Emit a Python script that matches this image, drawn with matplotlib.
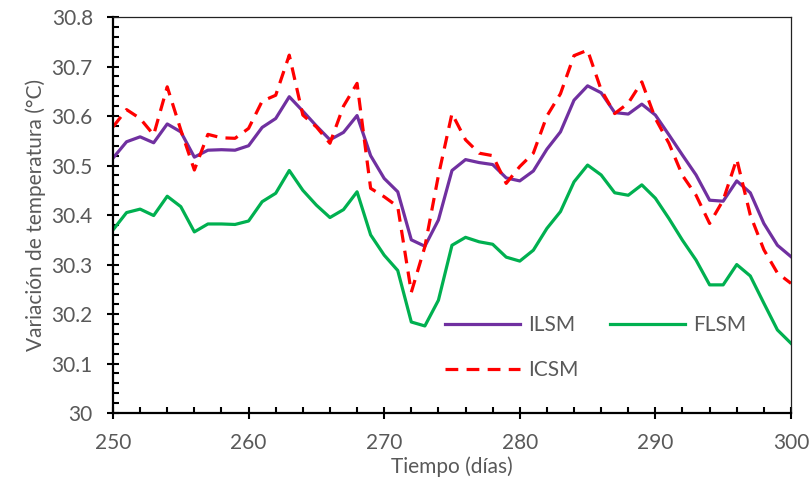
import matplotlib
matplotlib.use("Agg")
import matplotlib.pyplot as plt
from matplotlib.ticker import MultipleLocator, FuncFormatter

days = list(range(250, 301))

ilsm = [30.515, 30.548, 30.558, 30.546, 30.584, 30.568, 30.517, 30.531, 30.532, 30.531,
        30.540, 30.577, 30.595, 30.639, 30.610, 30.580, 30.552, 30.567, 30.601, 30.520,
        30.474, 30.447, 30.350, 30.337, 30.390, 30.490, 30.512, 30.506, 30.502, 30.475,
        30.469, 30.489, 30.533, 30.568, 30.632, 30.661, 30.647, 30.607, 30.604, 30.624,
        30.602, 30.562, 30.521, 30.481, 30.430, 30.428, 30.469, 30.445, 30.383, 30.339,
        30.316]

flsm = [30.370, 30.405, 30.412, 30.399, 30.438, 30.417, 30.366, 30.382, 30.382, 30.381,
        30.388, 30.427, 30.444, 30.490, 30.450, 30.420, 30.395, 30.411, 30.447, 30.360,
        30.319, 30.288, 30.184, 30.176, 30.228, 30.339, 30.355, 30.346, 30.341, 30.315,
        30.307, 30.329, 30.373, 30.407, 30.467, 30.501, 30.481, 30.445, 30.440, 30.461,
        30.434, 30.393, 30.349, 30.309, 30.259, 30.259, 30.300, 30.277, 30.222, 30.168,
        30.141]

icsm = [30.578, 30.613, 30.595, 30.562, 30.659, 30.572, 30.491, 30.563, 30.556, 30.555,
        30.575, 30.630, 30.642, 30.723, 30.602, 30.578, 30.545, 30.620, 30.666, 30.454,
        30.437, 30.417, 30.244, 30.336, 30.480, 30.605, 30.552, 30.525, 30.520, 30.464,
        30.498, 30.525, 30.600, 30.645, 30.722, 30.733, 30.653, 30.605, 30.626, 30.669,
        30.595, 30.545, 30.480, 30.440, 30.383, 30.430, 30.513, 30.400, 30.330, 30.283,
        30.262]

x_label = "Tiempo (días)"
y_label = "Variación de temperatura (°C)"

text_gray = "#595959"
plt.rcParams["font.family"] = ["Lato", "DejaVu Sans"]

fig = plt.figure(figsize=(8.1, 4.86), dpi=100)
ax = fig.add_axes([0.1395, 0.150, 0.837, 0.815])

lw = 2.3
h_ilsm, = ax.plot(days, ilsm, color="#7030A0", lw=lw, label="ILSM")
h_flsm, = ax.plot(days, flsm, color="#00B050", lw=lw, label="FLSM")
h_icsm, = ax.plot(days, icsm, color="#FF0000", lw=lw, linestyle=(0, (4, 2.6)), label="ICSM")

ax.set_xlim(250, 300)
ax.set_ylim(30.0, 30.8)
ax.xaxis.set_major_locator(MultipleLocator(10))
ax.xaxis.set_minor_locator(MultipleLocator(2))
ax.yaxis.set_major_locator(MultipleLocator(0.1))
ax.yaxis.set_minor_locator(MultipleLocator(0.02))
ax.yaxis.set_major_formatter(FuncFormatter(lambda v, p: "30" if abs(v - 30) < 1e-9 else f"{v:.1f}"))

ax.tick_params(which="major", direction="inout", length=9, width=1.5,
               labelsize=15, labelcolor=text_gray, pad=10, color="black")
ax.tick_params(which="minor", direction="in", length=4.5, width=1.5, color="black")

for side in ("left", "bottom"):
    ax.spines[side].set_linewidth(1.6)
    ax.spines[side].set_color("black")
for side in ("top", "right"):
    ax.spines[side].set_linewidth(0.9)
    ax.spines[side].set_color("#222222")

ax.set_xlabel(x_label, fontsize=15, color=text_gray, labelpad=2)
ax.set_ylabel(y_label, fontsize=15, color=text_gray, labelpad=4)

# two-column legend filled row by row: ILSM, FLSM / ICSM
leg = ax.legend([h_ilsm, h_icsm, h_flsm], ["ILSM", "ICSM", "FLSM"],
                loc="upper left", bbox_to_anchor=(0.477, 0.268), ncol=2,
                frameon=False, fontsize=15, handlelength=3.6, handletextpad=0.4,
                columnspacing=1.5, labelspacing=1.2, borderaxespad=0.0)
for t in leg.get_texts():
    t.set_color(text_gray)

fig.savefig("out.png", dpi=100)
